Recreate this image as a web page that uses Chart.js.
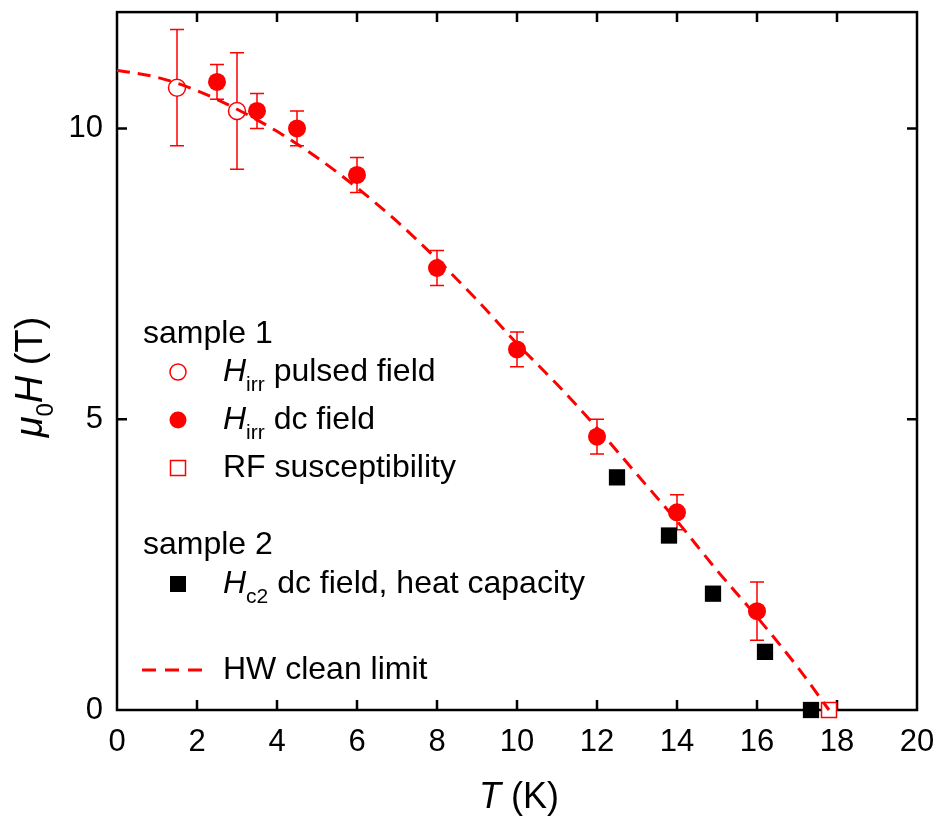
<!DOCTYPE html>
<html>
<head>
<meta charset="utf-8">
<script src="https://cdn.jsdelivr.net/npm/chart.js@4.4.1/dist/chart.umd.min.js"></script>
<style>
  html, body { margin: 0; background: #fff; }
  #wrap { width: 939px; height: 821px; }
</style>
</head>
<body>
<div id="wrap"><canvas id="hc2-chart"></canvas></div>
<script>
// sample 1, H_irr from pulsed field (open circles)
const pulsedT = [1.5, 3.0]
const pulsedH = [10.7, 10.3]
const pulsedErr = [1.0, 1.0]

// sample 1, H_irr from dc field (filled circles)
const dcT = [2.5, 3.5, 4.5, 6, 8, 10, 12, 14, 16]
const dcH = [10.8, 10.3, 10.0, 9.2, 7.6, 6.2, 4.7, 3.4, 1.7]
const dcErr = [0.3, 0.3, 0.3, 0.3, 0.3, 0.3, 0.3, 0.3, 0.5]

// sample 1, RF susceptibility (open square)
const rfT = [17.8]
const rfH = [0]

// sample 2, H_c2 from dc field / heat capacity (black squares)
const hc2T = [12.5, 13.8, 14.9, 16.2, 17.35]
const hc2H = [4, 3, 2, 1, 0]

// HW clean limit curve
const hwT = [0, 1, 2, 3, 4, 5, 6, 7, 8, 9, 10, 11, 12, 13, 14, 15, 16, 17, 17.8]
const hwH = [11.0, 10.88, 10.65, 10.33, 9.95, 9.5, 8.98, 8.4, 7.75, 7.05, 6.3, 5.6, 4.85, 4.05, 3.25, 2.4, 1.6, 0.75, 0]

const xTicks = [0, 2, 4, 6, 8, 10, 12, 14, 16, 18, 20]
const yTicks = [0, 5, 10]

const RED = '#ff0000'
const FF = '"Liberation Sans", Arial, Helvetica, sans-serif'

const pts = (xs, ys) => xs.map((x, i) => ({ x, y: ys[i] }))

const drawParts = (ctx, parts, x, y) => {
  parts.forEach((p) => {
    ctx.font = p.font
    ctx.fillText(p.text, x, y + (p.dy || 0))
    x += ctx.measureText(p.text).width
  })
}

const partsWidth = (ctx, parts) => parts.reduce((w, p) => {
  ctx.font = p.font
  return w + ctx.measureText(p.text).width
}, 0)

const drawMarker = (ctx, kind, x, y) => {
  ctx.save()
  ctx.lineWidth = 1.5
  if (kind === 'openCircle') {
    ctx.strokeStyle = RED
    ctx.fillStyle = '#fff'
    ctx.beginPath(); ctx.arc(x, y, 8, 0, Math.PI * 2); ctx.fill(); ctx.stroke()
  } else if (kind === 'circle') {
    ctx.fillStyle = RED
    ctx.beginPath(); ctx.arc(x, y, 8.5, 0, Math.PI * 2); ctx.fill()
  } else if (kind === 'openSquare') {
    ctx.strokeStyle = RED
    ctx.strokeRect(x - 7.5, y - 7.5, 15, 15)
  } else if (kind === 'square') {
    ctx.fillStyle = '#000'
    ctx.fillRect(x - 8, y - 8, 16, 16)
  } else if (kind === 'dash') {
    ctx.strokeStyle = RED
    ctx.lineWidth = 3
    ctx.setLineDash([14, 9])
    ctx.beginPath(); ctx.moveTo(x - 36, y); ctx.lineTo(x + 25, y); ctx.stroke()
  }
  ctx.restore()
}

const L = `32px ${FF}`
const LI = `italic 32px ${FF}`
const LS = `21px ${FF}`

const legendRows = [
  { y: 343, x: 143, parts: [{ text: 'sample 1', font: L }] },
  { y: 381, marker: 'openCircle', my: 372, parts: [{ text: 'H', font: LI }, { text: 'irr', font: LS, dy: 10 }, { text: ' pulsed field', font: L }] },
  { y: 429, marker: 'circle', my: 420, parts: [{ text: 'H', font: LI }, { text: 'irr', font: LS, dy: 10 }, { text: ' dc field', font: L }] },
  { y: 477, marker: 'openSquare', my: 468, parts: [{ text: 'RF susceptibility', font: L }] },
  { y: 554, x: 143, parts: [{ text: 'sample 2', font: L }] },
  { y: 593, marker: 'square', my: 584, parts: [{ text: 'H', font: LI }, { text: 'c2', font: LS, dy: 10 }, { text: ' dc field, heat capacity', font: L }] },
  { y: 679, marker: 'dash', my: 670, parts: [{ text: 'HW clean limit', font: L }] },
]

const noPad = (s) => {
  s.paddingLeft = 0
  s.paddingRight = 0
  s.paddingTop = 0
  s.paddingBottom = 0
}

const framePlugin = {
  id: 'frame',
  beforeDatasetsDraw(chart) {
    const { ctx, chartArea: a, scales: { x, y } } = chart
    ctx.save()
    ctx.strokeStyle = '#000'
    ctx.lineWidth = 2.5
    ctx.strokeRect(a.left, a.top, a.right - a.left, a.bottom - a.top)
    ctx.beginPath()
    xTicks.forEach((v) => {
      const px = x.getPixelForValue(v)
      if (v === 0 || v === 20) return
      ctx.moveTo(px, a.bottom); ctx.lineTo(px, a.bottom - 10)
      ctx.moveTo(px, a.top); ctx.lineTo(px, a.top + 10)
    })
    yTicks.forEach((v) => {
      const py = y.getPixelForValue(v)
      if (v === 0) return
      ctx.moveTo(a.left, py); ctx.lineTo(a.left + 10, py)
      ctx.moveTo(a.right, py); ctx.lineTo(a.right - 10, py)
    })
    ctx.stroke()

    // error bars
    ctx.strokeStyle = RED
    ctx.lineWidth = 1.5
    const bars = (xs, ys, es) => {
      xs.forEach((t, i) => {
        const px = x.getPixelForValue(t)
        const top = y.getPixelForValue(ys[i] + es[i])
        const bot = y.getPixelForValue(ys[i] - es[i])
        ctx.beginPath()
        ctx.moveTo(px, top); ctx.lineTo(px, bot)
        ctx.moveTo(px - 7, top); ctx.lineTo(px + 7, top)
        ctx.moveTo(px - 7, bot); ctx.lineTo(px + 7, bot)
        ctx.stroke()
      })
    }
    bars(pulsedT, pulsedH, pulsedErr)
    bars(dcT, dcH, dcErr)
    ctx.restore()
  },
  afterDraw(chart) {
    const { ctx } = chart
    ctx.save()
    ctx.fillStyle = '#000'
    ctx.textBaseline = 'alphabetic'
    ctx.textAlign = 'left'

    legendRows.forEach((r) => {
      if (r.marker) drawMarker(ctx, r.marker, 178, r.my)
      drawParts(ctx, r.parts, r.x || 223, r.y)
    })

    // x title
    const xt = [{ text: 'T', font: `italic 36px ${FF}` }, { text: ' (K)', font: `36px ${FF}` }]
    drawParts(ctx, xt, 519 - partsWidth(ctx, xt) / 2, 808)

    // y title
    const yt = [
      { text: 'μ', font: `italic 38px ${FF}` },
      { text: '0', font: `24px ${FF}`, dy: 11 },
      { text: 'H', font: `italic 38px ${FF}` },
      { text: ' (T)', font: `38px ${FF}` },
    ]
    ctx.translate(42, 377)
    ctx.rotate(-Math.PI / 2)
    drawParts(ctx, yt, -partsWidth(ctx, yt) / 2, 0)
    ctx.restore()
  },
}

const buildChart = () => {
  const ctx = document.getElementById('hc2-chart')
  return new Chart(ctx, {
    type: 'scatter',
    data: {
      datasets: [
        {
          type: 'line',
          data: pts(hwT, hwH),
          borderColor: RED,
          borderWidth: 3,
          borderDash: [13, 8],
          pointRadius: 0,
          cubicInterpolationMode: 'monotone',
          fill: false,
          clip: false,
        },
        {
          data: pts(pulsedT, pulsedH),
          pointStyle: 'circle',
          pointRadius: 8.5,
          pointBackgroundColor: '#fff',
          pointBorderColor: RED,
          pointBorderWidth: 1.5,
          clip: false,
        },
        {
          data: pts(dcT, dcH),
          pointStyle: 'circle',
          pointRadius: 9,
          pointBackgroundColor: RED,
          pointBorderColor: RED,
          pointBorderWidth: 0,
          clip: false,
        },
        {
          data: pts(rfT, rfH),
          pointStyle: 'rect',
          pointRadius: 10.6,
          pointBackgroundColor: '#fff',
          pointBorderColor: RED,
          pointBorderWidth: 1.5,
          clip: false,
        },
        {
          data: pts(hc2T, hc2H),
          pointStyle: 'rect',
          pointRadius: 11.5,
          pointBackgroundColor: '#000',
          pointBorderColor: '#000',
          pointBorderWidth: 0,
          clip: false,
        },
      ],
    },
    options: {
      responsive: true,
      maintainAspectRatio: false,
      animation: false,
      layout: { padding: { top: 8, right: 22, left: 0, bottom: 0 } },
      plugins: {
        legend: { display: false },
        tooltip: { enabled: false },
      },
      scales: {
        x: {
          type: 'linear',
          min: 0,
          max: 20,
          afterBuildTicks: (s) => { s.ticks = xTicks.map((value) => ({ value })) },
          afterFit: (s) => { s.height = 111; noPad(s) },
          grid: { display: false, drawTicks: false },
          border: { display: false },
          ticks: {
            autoSkip: false,
            maxRotation: 0,
            padding: 14,
            color: '#000',
            font: { family: FF, size: 31 },
          },
        },
        y: {
          type: 'linear',
          min: 0,
          max: 12,
          afterBuildTicks: (s) => { s.ticks = yTicks.map((value) => ({ value })) },
          afterFit: (s) => { s.width = 117; noPad(s) },
          grid: { display: false, drawTicks: false },
          border: { display: false },
          ticks: {
            autoSkip: false,
            padding: 14,
            color: '#000',
            font: { family: FF, size: 31 },
          },
        },
      },
    },
    plugins: [framePlugin],
  })
}

buildChart()
</script>
</body>
</html>
